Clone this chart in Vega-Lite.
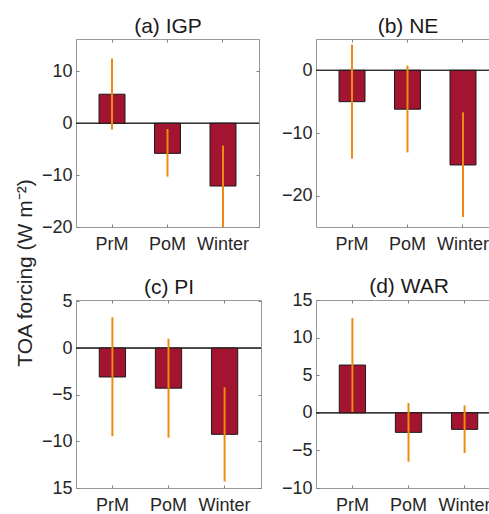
{
  "$schema": "https://vega.github.io/schema/vega-lite/v6.json",
  "padding": {"left": 13, "top": 15, "right": 0, "bottom": 0},
  "background": "white",
  "datasets": {
    "forcing": [
      {"panel": "a", "season": "PrM", "value": 5.6, "lo": -1.2, "hi": 12.5},
      {"panel": "a", "season": "PoM", "value": -5.8, "lo": -10.3, "hi": -1.1},
      {"panel": "a", "season": "Winter", "value": -12.1, "lo": -20, "hi": -4.3},
      {"panel": "b", "season": "PrM", "value": -5.0, "lo": -14.1, "hi": 4.1},
      {"panel": "b", "season": "PoM", "value": -6.2, "lo": -13.1, "hi": 0.75},
      {"panel": "b", "season": "Winter", "value": -15.1, "lo": -23.4, "hi": -6.7},
      {"panel": "c", "season": "PrM", "value": -3.1, "lo": -9.45, "hi": 3.3},
      {"panel": "c", "season": "PoM", "value": -4.3, "lo": -9.6, "hi": 1.0},
      {"panel": "c", "season": "Winter", "value": -9.25, "lo": -14.3, "hi": -4.2},
      {"panel": "d", "season": "PrM", "value": 6.35, "lo": 0.1, "hi": 12.6},
      {"panel": "d", "season": "PoM", "value": -2.6, "lo": -6.5, "hi": 1.3},
      {"panel": "d", "season": "Winter", "value": -2.2, "lo": -5.35, "hi": 1.0}
    ]
  },
  "columns": 2,
  "spacing": {"row": 73, "column": 55},
  "bounds": "flush",
  "align": "none",
  "concat": [
    {
      "width": 183, "height": 188,
      "data": {"name": "forcing"},
      "transform": [{"filter": "datum.panel == 'a'"}],
      "resolve": {"axis": {"x": "independent", "y": "independent"}},
      "layer": [
        {"mark": {"type": "rule", "color": "#333333", "strokeWidth": 1}, "encoding": {"y": {"datum": 0, "axis": null, "scale": {"domain": [-20, 16.25], "nice": false, "zero": false}}}},
        {"mark": {"type": "bar", "color": "#A2142F", "stroke": "#1a1a1a", "strokeWidth": 1},
         "encoding": {
           "x": {"field": "season", "type": "nominal", "sort": ["PrM", "PoM", "Winter"], "scale": {"paddingInner": 0.532, "paddingOuter": 0.415}, "axis": {"orient": "bottom", "title": null}},
           "y": {"field": "value", "type": "quantitative", "scale": {"domain": [-20, 16.25], "nice": false, "zero": false},
                 "axis": {"orient": "left", "values": [-20, -10, 0, 10],
                          "title": "TOA forcing (W m⁻²)", "titleAngle": 270, "titleX": -45, "titleY": 233.5, "titleAlign": "center", "titleBaseline": "alphabetic"}}
         }},
        {"mark": {"type": "rule", "color": "#EE8A12", "strokeWidth": 2},
         "encoding": {
           "x": {"field": "season", "type": "nominal", "sort": ["PrM", "PoM", "Winter"], "axis": {"orient": "top", "labels": false, "title": "(a) IGP", "titleY": -6.3, "titleBaseline": "alphabetic", "titleColor": "#1a1a1a"}},
           "y": {"field": "lo", "type": "quantitative", "axis": {"orient": "right", "title": null, "labels": false, "values": [-20, -10, 0, 10]}},
           "y2": {"field": "hi"}
         }}
      ]
    },
    {
      "width": 183, "height": 188,
      "data": {"name": "forcing"},
      "transform": [{"filter": "datum.panel == 'b'"}],
      "resolve": {"axis": {"x": "independent", "y": "independent"}},
      "layer": [
        {"mark": {"type": "rule", "color": "#333333", "strokeWidth": 1}, "encoding": {"y": {"datum": 0, "axis": null, "scale": {"domain": [-25, 5], "nice": false, "zero": false}}}},
        {"mark": {"type": "bar", "color": "#A2142F", "stroke": "#1a1a1a", "strokeWidth": 1},
         "encoding": {
           "x": {"field": "season", "type": "nominal", "sort": ["PrM", "PoM", "Winter"], "scale": {"paddingInner": 0.532, "paddingOuter": 0.415}, "axis": {"orient": "bottom", "title": null}},
           "y": {"field": "value", "type": "quantitative", "scale": {"domain": [-25, 5], "nice": false, "zero": false}, "axis": {"orient": "left", "title": null, "values": [-20, -10, 0]}}
         }},
        {"mark": {"type": "rule", "color": "#EE8A12", "strokeWidth": 2},
         "encoding": {
           "x": {"field": "season", "type": "nominal", "sort": ["PrM", "PoM", "Winter"], "axis": {"orient": "top", "labels": false, "title": "(b) NE", "titleY": -6.3, "titleBaseline": "alphabetic", "titleColor": "#1a1a1a"}},
           "y": {"field": "lo", "type": "quantitative", "axis": {"orient": "right", "title": null, "labels": false, "values": [-20, -10, 0]}},
           "y2": {"field": "hi"}
         }}
      ]
    },
    {
      "width": 185, "height": 188,
      "data": {"name": "forcing"},
      "transform": [{"filter": "datum.panel == 'c'"}],
      "resolve": {"axis": {"x": "independent", "y": "independent"}},
      "layer": [
        {"mark": {"type": "rule", "color": "#333333", "strokeWidth": 1}, "encoding": {"y": {"datum": 0, "axis": null, "scale": {"domain": [-15, 5.15], "nice": false, "zero": false}}}},
        {"mark": {"type": "bar", "color": "#A2142F", "stroke": "#1a1a1a", "strokeWidth": 1},
         "encoding": {
           "x": {"field": "season", "type": "nominal", "sort": ["PrM", "PoM", "Winter"], "scale": {"paddingInner": 0.532, "paddingOuter": 0.415}, "axis": {"orient": "bottom", "title": null}},
           "y": {"field": "value", "type": "quantitative", "scale": {"domain": [-15, 5.15], "nice": false, "zero": false},
                 "axis": {"orient": "left", "title": null, "values": [-15, -10, -5, 0, 5], "labelExpr": "datum.value == -15 ? '15' : datum.label"}}
         }},
        {"mark": {"type": "rule", "color": "#EE8A12", "strokeWidth": 2},
         "encoding": {
           "x": {"field": "season", "type": "nominal", "sort": ["PrM", "PoM", "Winter"], "axis": {"orient": "top", "labels": false, "title": "(c) PI", "titleY": -6.8, "titleBaseline": "alphabetic", "titleColor": "#1a1a1a"}},
           "y": {"field": "lo", "type": "quantitative", "axis": {"orient": "right", "title": null, "labels": false, "values": [-15, -10, -5, 0, 5]}},
           "y2": {"field": "hi"}
         }}
      ]
    },
    {
      "width": 185, "height": 188,
      "data": {"name": "forcing"},
      "transform": [{"filter": "datum.panel == 'd'"}],
      "resolve": {"axis": {"x": "independent", "y": "independent"}},
      "layer": [
        {"mark": {"type": "rule", "color": "#333333", "strokeWidth": 1}, "encoding": {"y": {"datum": 0, "axis": null, "scale": {"domain": [-10, 15], "nice": false, "zero": false}}}},
        {"mark": {"type": "bar", "color": "#A2142F", "stroke": "#1a1a1a", "strokeWidth": 1},
         "encoding": {
           "x": {"field": "season", "type": "nominal", "sort": ["PrM", "PoM", "Winter"], "scale": {"paddingInner": 0.532, "paddingOuter": 0.415}, "axis": {"orient": "bottom", "title": null}},
           "y": {"field": "value", "type": "quantitative", "scale": {"domain": [-10, 15], "nice": false, "zero": false}, "axis": {"orient": "left", "title": null, "values": [-10, -5, 0, 5, 10, 15]}}
         }},
        {"mark": {"type": "rule", "color": "#EE8A12", "strokeWidth": 2},
         "encoding": {
           "x": {"field": "season", "type": "nominal", "sort": ["PrM", "PoM", "Winter"], "axis": {"orient": "top", "labels": false, "title": "(d) WAR", "titleY": -7.3, "titleBaseline": "alphabetic", "titleColor": "#1a1a1a"}},
           "y": {"field": "lo", "type": "quantitative", "axis": {"orient": "right", "title": null, "labels": false, "values": [-10, -5, 0, 5, 10, 15]}},
           "y2": {"field": "hi"}
         }}
      ]
    }
  ],
  "config": {
    "font": "Liberation Sans",
    "view": {"stroke": "#999999", "strokeWidth": 1},
    "axis": {
      "domain": false, "grid": false, "labelAngle": 0,
      "labelFont": "Liberation Sans", "labelFontSize": 18, "labelColor": "#262626",
      "tickColor": "#808080", "tickSize": -3, "tickWidth": 1,
      "titleFont": "Liberation Sans", "titleFontSize": 21, "titleFontWeight": "normal", "titleColor": "#262626"
    },
    "axisX": {"labelPadding": 11},
    "axisY": {"labelPadding": 7}
  }
}
